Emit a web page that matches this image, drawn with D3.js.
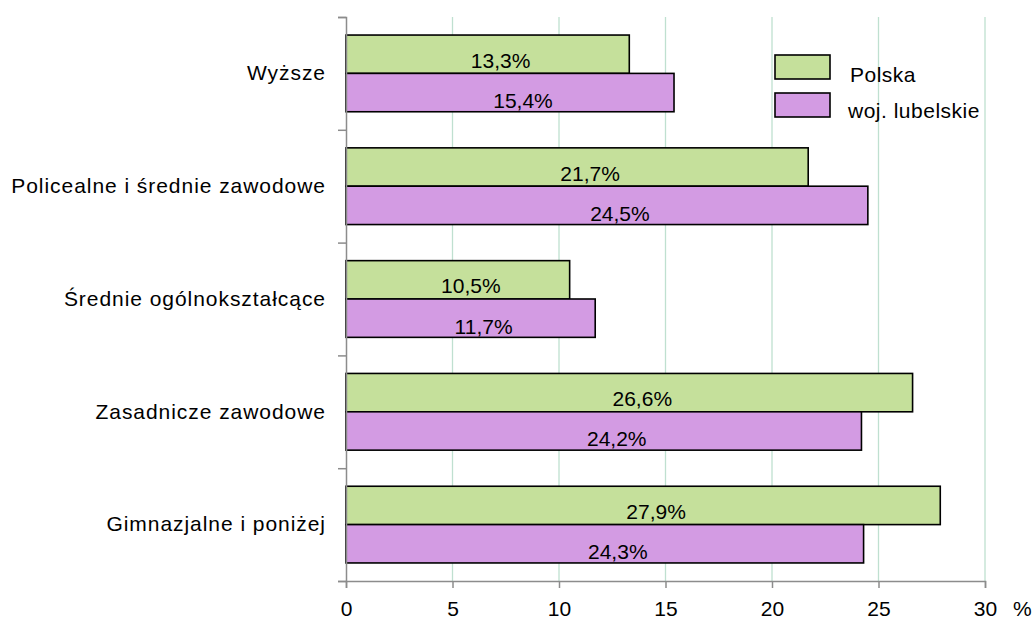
<!DOCTYPE html>
<html>
<head>
<meta charset="utf-8">
<script src="https://cdn.jsdelivr.net/npm/d3@7"></script>
<style>
  body { margin: 0; background: #fff; }
  text { font-family: "Liberation Sans", Arial, sans-serif; fill: #000; }
</style>
</head>
<body>
<div id="chart"></div>
<script>
// data
var categories = ["Wyższe", "Policealne i średnie zawodowe", "Średnie ogólnokształcące", "Zasadnicze zawodowe", "Gimnazjalne i poniżej"];
var series = ["Polska", "woj. lubelskie"];
var polska = [13.3, 21.7, 10.5, 26.6, 27.9];
var lubelskie = [15.4, 24.5, 11.7, 24.2, 24.3];
var xTicks = [0, 5, 10, 15, 20, 25, 30];
var colors = ["#c5e09b", "#d39be3"];

var margin = {top: 17, right: 49, bottom: 38, left: 346},
    width = 1034 - margin.left - margin.right,
    height = 619 - margin.top - margin.bottom;

var svg = d3.select("#chart")
  .append("svg")
    .attr("width", 1034)
    .attr("height", 619)
  .append("g")
    .attr("transform", "translate(" + margin.left + "," + margin.top + ")");

var x = d3.scaleLinear().domain([0, 30]).range([0, width]);
var y = d3.scaleBand().domain(categories).range([0, height]).paddingInner(0.32).paddingOuter(0.16);
var yLab = d3.scaleBand().domain(categories).range([0, height]);
var ySub = d3.scaleBand().domain(series).range([0, y.bandwidth()]);

// gridlines
svg.selectAll(".grid")
  .data(xTicks.slice(1))
  .enter().append("line")
    .attr("x1", function(d) { return x(d); })
    .attr("x2", function(d) { return x(d); })
    .attr("y1", 0)
    .attr("y2", height)
    .attr("stroke", "#bfe0d0")
    .attr("stroke-width", 1.3);

// bars
var rows = categories.map(function(c, i) {
  return [{cat: c, s: series[0], v: polska[i]}, {cat: c, s: series[1], v: lubelskie[i]}];
});
var flat = [].concat.apply([], rows);

svg.selectAll("rect.bar")
  .data(flat)
  .enter().append("rect")
    .attr("class", "bar")
    .attr("x", x(0))
    .attr("y", function(d) { return y(d.cat) + ySub(d.s); })
    .attr("width", function(d) { return x(d.v) - x(0); })
    .attr("height", ySub.bandwidth())
    .attr("fill", function(d) { return d.s == series[0] ? colors[0] : colors[1]; })
    .attr("stroke", "#000")
    .attr("stroke-width", 1.6);

svg.selectAll("text.val")
  .data(flat)
  .enter().append("text")
    .attr("class", "val")
    .attr("x", function(d) { return x(d.v / 2) + 13; })
    .attr("y", function(d) { return y(d.cat) + ySub(d.s) + ySub.bandwidth() / 2 + (d.s == series[0] ? 6 : 8); })
    .attr("text-anchor", "middle")
    .attr("dominant-baseline", "central")
    .style("font-size", "21px")
    .text(function(d) { return d.v.toFixed(1).replace(".", ",") + "%"; });

// axes
var xAxis = svg.append("g")
  .attr("transform", "translate(0," + height + ")")
  .call(d3.axisBottom(x).tickValues(xTicks).tickSize(7).tickPadding(13));
xAxis.selectAll("text").style("font-size", "21px");

var yTickAxis = svg.append("g")
  .call(d3.axisLeft(d3.scaleLinear().domain([0, 5]).range([0, height])).ticks(5).tickSize(8).tickFormat(""));

var yAxis = svg.append("g")
  .call(d3.axisLeft(yLab).tickSize(0).tickPadding(20));
yAxis.select(".domain").remove();
yAxis.selectAll("text").style("font-size", "21px").style("letter-spacing", "0.95px");

svg.selectAll(".domain, .tick line").attr("stroke", "#8c8c8c").attr("stroke-width", 1.5);

svg.append("text")
  .attr("x", width + 28)
  .attr("y", height + 35)
  .style("font-size", "21px")
  .text("%");

// legend
var legend = svg.append("g").attr("transform", "translate(" + (775 - margin.left) + "," + (55 - margin.top) + ")");
series.forEach(function(s, i) {
  legend.append("rect")
    .attr("x", 0)
    .attr("y", i * 38)
    .attr("width", 55)
    .attr("height", 24)
    .attr("fill", colors[i])
    .attr("stroke", "#000")
    .attr("stroke-width", 1.6);
  legend.append("text")
    .attr("x", i == 0 ? 75 : 73)
    .attr("y", i * 38 + 20 + (i == 0 ? 7 : 5))
    .style("font-size", "21px")
    .style("letter-spacing", "0.5px")
    .text(s);
});
</script>
</body>
</html>
